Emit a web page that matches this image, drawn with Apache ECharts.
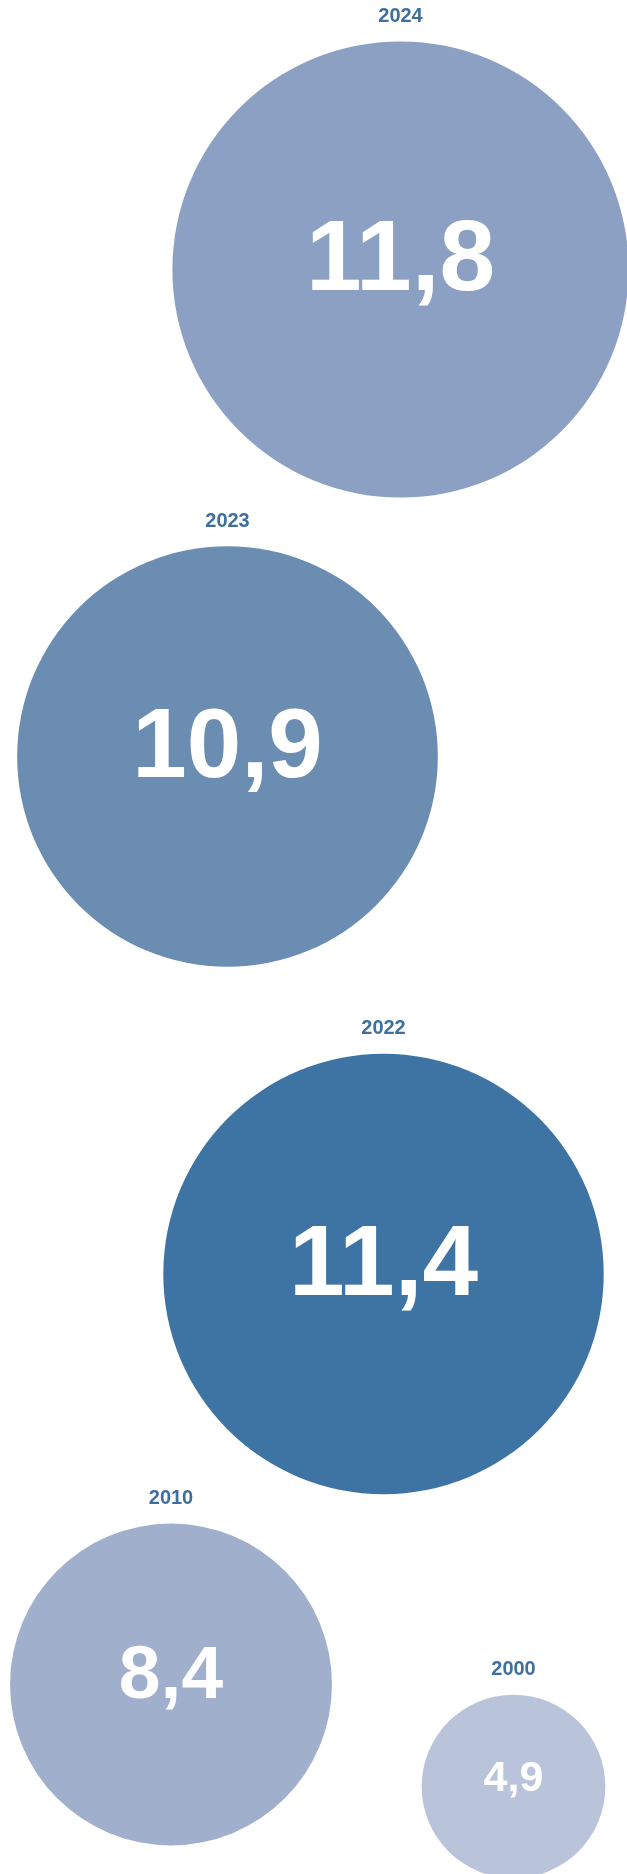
<!DOCTYPE html>
<html>
<head>
<meta charset="utf-8">
<script src="https://cdn.jsdelivr.net/npm/echarts@6/dist/echarts.min.js"></script>
<style>
  html, body { margin: 0; padding: 0; background: #ffffff; }
  #chart { width: 627px; height: 1874px; }
</style>
</head>
<body>
<div id="chart"></div>
<script>
// Years and their values
const years = ['2024', '2023', '2022', '2010', '2000'];
const values = [11.8, 10.9, 11.4, 8.4, 4.9];

// Bubble fill per year
const fills = ['#8BA0C2', '#6C8DB2', '#3E74A3', '#A0AFCB', '#B9C4DB'];

// Where each bubble centre sits on the 627 x 1874 layout plane
const layout = {
  x: [400.5, 227.5, 383.5, 171, 513.5],
  y: [269.5, 756.5, 1274, 1684.5, 1786.5]
};

// Linear size scale: diameter in px for a given value
const SIZE_SLOPE = 39.5;
const SIZE_ZERO = 0.25;
const diameter = v => (v - SIZE_ZERO) * SIZE_SLOPE;
const fmt = v => v.toFixed(1).replace('.', ',');

const FONT = '"Liberation Sans", Arial, Helvetica, sans-serif';

const bubbles = years.map((y, i) => {
  const d = diameter(values[i]);
  return {
    name: y,
    value: [layout.x[i], layout.y[i], values[i]],
    itemStyle: { color: fills[i], opacity: 1 },
    label: { fontSize: Math.round(Math.min(100, d * 0.232)) }
  };
});

const chart = echarts.init(document.getElementById('chart'), null, { renderer: 'canvas' });
chart.setOption({
  backgroundColor: '#ffffff',
  animation: false,
  grid: { left: 0, right: 0, top: 0, bottom: 0 },
  xAxis: { type: 'value', min: 0, max: 627, show: false },
  yAxis: { type: 'value', min: 0, max: 1874, inverse: true, show: false },
  series: [
    {
      // bubbles with the value written inside
      type: 'scatter',
      data: bubbles,
      symbol: 'circle',
      symbolSize: v => diameter(v[2]),
      silent: true,
      itemStyle: { opacity: 1 },
      label: {
        show: true,
        position: 'inside',
        offset: [0, -7],
        color: '#ffffff',
        opacity: 1,
        fontFamily: FONT,
        fontWeight: 'bold',
        formatter: p => fmt(p.value[2])
      }
    },
    {
      // year caption above each bubble
      type: 'scatter',
      data: bubbles.map(p => ({ name: p.name, value: p.value })),
      symbol: 'circle',
      symbolSize: v => diameter(v[2]),
      itemStyle: { color: 'rgba(0,0,0,0)', opacity: 1 },
      silent: true,
      label: {
        show: true,
        position: 'top',
        distance: 15,
        color: '#3E6F9F',
        opacity: 1,
        fontFamily: FONT,
        fontWeight: 'bold',
        fontSize: 20,
        formatter: p => p.name
      }
    }
  ]
});
</script>
</body>
</html>
